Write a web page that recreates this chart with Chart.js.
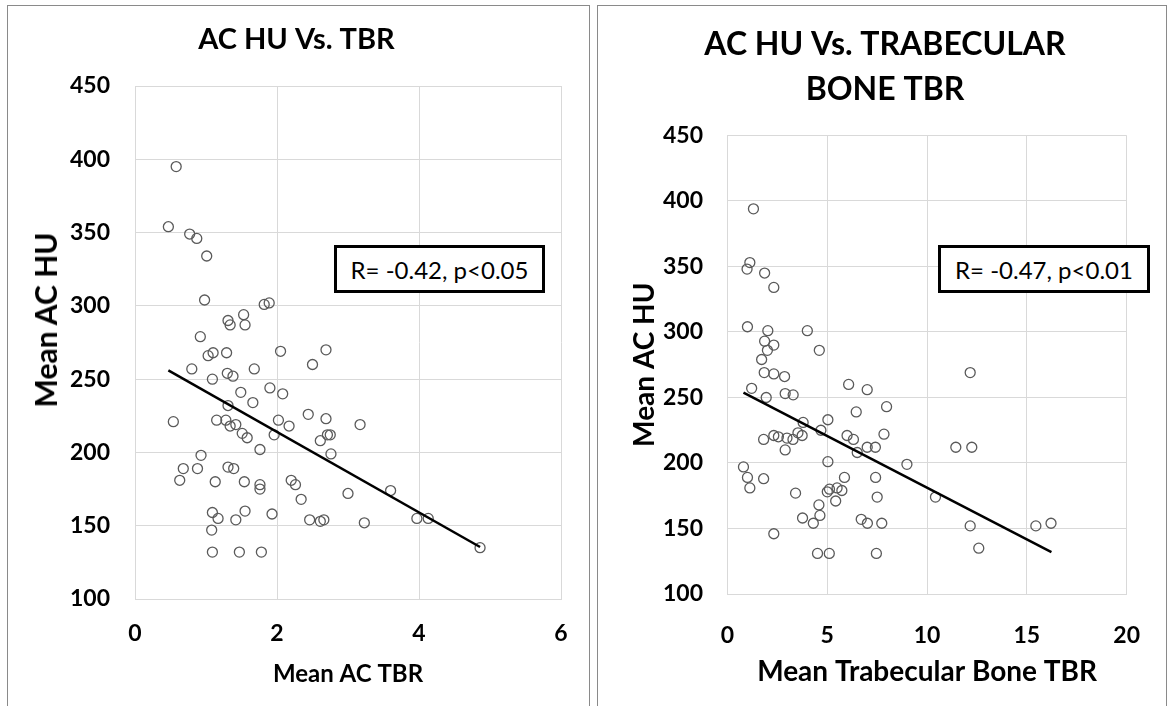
<!DOCTYPE html>
<html>
<head>
<meta charset="utf-8">
<script src="https://cdn.jsdelivr.net/npm/chart.js@4.4.0/dist/chart.umd.min.js"></script>
<style>
html,body{margin:0;padding:0;background:#fff;width:1168px;height:706px;overflow:hidden;}
.panel{position:absolute;border:1.5px solid #8a8a8a;box-sizing:border-box;}
canvas{position:absolute;}
.rbox{position:absolute;border:3px solid #000;box-sizing:border-box;background:#fff;font:24px Lato,sans-serif;color:#000;display:flex;align-items:center;justify-content:center;white-space:nowrap;}
.ytitle{position:absolute;font:bold 30px Lato,sans-serif;color:#000;white-space:nowrap;transform:translate(-50%,-50%) rotate(-90deg);line-height:1;}
</style>
</head>
<body>
<div class="panel" style="left:7px;top:5px;width:583px;height:720px"></div>
<div class="panel" style="left:597px;top:5px;width:570px;height:720px"></div>
<canvas id="c1" width="594" height="706" style="left:0;top:0"></canvas>
<canvas id="c2" width="574" height="706" style="left:594px;top:0"></canvas>
<div class="ytitle" id="leftYTitle" style="left:45px;top:320px"></div>
<div class="rbox" style="left:334px;top:245px;width:211px;height:48px">R= -0.42, p&lt;0.05</div>
<div class="rbox" style="left:938px;top:245px;width:212px;height:48px">R= -0.47, p&lt;0.01</div>
<script>
// ---- Data: left chart (Mean AC TBR vs Mean AC HU) ----
const acTbr = [0.58,0.47,0.77,0.87,1.01,0.98,1.82,1.89,1.31,1.34,
  1.53,1.55,0.92,1.03,1.10,1.29,2.05,2.69,2.50,0.80,
  1.68,1.30,1.38,1.09,1.49,1.90,2.08,1.66,1.31,0.54,
  1.15,1.28,1.34,1.42,1.51,1.58,2.02,2.17,2.44,2.69,
  1.96,2.61,2.71,2.75,2.76,1.76,0.93,0.68,0.88,0.63,
  1.31,1.39,1.13,1.54,1.76,1.76,2.20,2.26,2.34,3.00,
  1.09,1.17,1.42,1.55,1.93,2.46,2.61,2.66,1.08,1.09,
  1.47,1.78,3.17,3.60,3.23,3.97,4.13,4.86];
const acHuLeft = [395,354,349,346,334,304,301,302,290,287,
  294,287,279,266,268,268,269,270,260,257,
  257,254,252,250,241,244,240,234,232,221,
  222,222,218,219,213,210,222,218,226,223,
  212,208,212,212,199,202,198,189,189,181,
  190,189,180,180,178,175,181,178,168,172,
  159,155,154,160,158,154,153,154,147,132,
  132,132,219,174,152,155,155,135];
const trendLeftX = [0.47, 4.86];
const trendLeftY = [256, 135.5];

// ---- Data: right chart (Mean Trabecular Bone TBR vs Mean AC HU) ----
const boneTbr = [1.30,1.12,0.98,1.86,2.32,1.00,2.02,4.00,1.86,2.32,
  2.00,4.60,1.71,1.84,2.32,2.86,6.07,7.00,1.21,1.94,
  2.89,3.29,6.45,3.79,5.03,4.68,1.81,2.32,2.55,2.98,
  3.28,3.53,3.74,2.89,5.99,6.31,7.00,6.50,5.03,0.80,
  1.00,1.12,1.81,5.86,7.42,3.41,5.00,5.11,5.49,5.73,
  5.42,4.58,4.63,3.76,4.30,6.70,7.01,2.32,4.51,5.10,
  7.46,12.16,7.97,7.84,7.41,11.44,12.24,8.99,7.50,10.42,
  7.73,12.16,12.59,15.45,16.21];
const acHuRight = [394,353,348,345,334,304,301,301,293,290,
  286,286,279,269,268,266,260,256,257,250,
  253,252,239,231,233,225,218,221,220,219,
  218,223,221,210,221,218,212,208,201,197,
  189,181,188,189,189,177,178,180,181,179,
  171,168,160,158,154,157,154,146,131,131,
  131,269,243,222,212,212,212,199,174,174,
  154,152,135,152,154];
const trendRightX = [0.80, 16.23];
const trendRightY = [253.7, 132];

// ---- Axis ticks / labels ----
const yTickMin = 100, yTickMax = 450, yTickStep = 50;
const leftXTicks = {min:0, max:6, step:2};
const rightXTicks = {min:0, max:20, step:5};
const leftTitle = 'AC HU Vs. TBR';
const rightTitle = ['AC HU Vs. TRABECULAR', 'BONE TBR'];
const yAxisTitle = 'Mean AC HU';
const leftXTitle = 'Mean AC TBR';
const rightXTitle = 'Mean Trabecular Bone TBR';

document.getElementById('leftYTitle').textContent = yAxisTitle;

const FONT = 'Lato, "Open Sans", sans-serif';
const zip = (xs, ys) => xs.map((x, i) => ({x, y: ys[i]}));

function makeChart(id, cfg) {
  return new Chart(document.getElementById(id), {
    type: 'scatter',
    data: {
      datasets: [
        {
          type: 'line',
          data: zip(cfg.tx, cfg.ty),
          borderColor: '#000',
          borderWidth: 2.5,
          pointRadius: 0,
          fill: false,
          order: 0
        },
        {
          type: 'scatter',
          data: zip(cfg.xs, cfg.ys),
          pointRadius: 5,
          pointBorderWidth: 1.3,
          pointBorderColor: '#5a5a5a',
          pointBackgroundColor: 'rgba(255,255,255,0)',
          order: 1
        }
      ]
    },
    options: {
      responsive: false,
      animation: false,
      devicePixelRatio: 1,
      events: [],
      layout: {padding: {left: cfg.padLeft, right: cfg.padRight, top: 0, bottom: 0}},
      plugins: {
        legend: {display: false},
        tooltip: {enabled: false},
        title: {
          display: true,
          text: cfg.title,
          color: '#000',
          font: {family: FONT, size: cfg.titleSize, weight: 'bold', lineHeight: cfg.titleLH},
          padding: cfg.titlePad
        }
      },
      scales: {
        x: {
          type: 'linear',
          min: cfg.xt.min, max: cfg.xt.max,
          afterFit: s => { s.height = cfg.xHeight; },
          ticks: {stepSize: cfg.xt.step, color: '#000', padding: cfg.xTickPad,
                  font: {family: FONT, size: 23, weight: 'bold'}, maxRotation: 0},
          grid: {color: '#d9d9d9', lineWidth: 1, drawTicks: false},
          border: {color: '#d9d9d9'},
          title: {display: true, text: cfg.xTitle, color: '#000',
                  font: {family: FONT, size: cfg.xTitleSize, weight: 'bold'},
                  padding: {top: 0, bottom: cfg.xTitlePadB}}
        },
        y: {
          type: 'linear',
          min: yTickMin, max: yTickMax,
          afterFit: s => { s.width = cfg.yWidth; },
          ticks: {stepSize: yTickStep, color: '#000', padding: cfg.yTickPad,
                  font: {family: FONT, size: 23, weight: 'bold'}},
          grid: {color: '#d9d9d9', lineWidth: 1, drawTicks: false},
          border: {color: '#d9d9d9'},
          title: {display: cfg.yTitleShow, text: yAxisTitle, color: '#000',
                  font: {family: FONT, size: cfg.yTitleSize, weight: 'bold'},
                  padding: {top: cfg.yTitlePadT, bottom: 0}}
        }
      }
    }
  });
}

makeChart('c1', {
  xs: acTbr, ys: acHuLeft, tx: trendLeftX, ty: trendLeftY,
  xt: leftXTicks, title: leftTitle, titleSize: 29, titleLH: 1.2,
  titlePad: {top: 22.6, bottom: 28.6}, padLeft: 32, padRight: 33,
  xHeight: 107, yWidth: 103, xTickPad: 21, yTickPad: 25,
  xTitle: leftXTitle, xTitleSize: 24, xTitlePadB: 17,
  yTitleShow: false, yTitleSize: 30, yTitlePadT: 0
});

makeChart('c2', {
  xs: boneTbr, ys: acHuRight, tx: trendRightX, ty: trendRightY,
  xt: rightXTicks, title: rightTitle, titleSize: 32, titleLH: 1.406,
  titlePad: {top: 22.5, bottom: 23}, padLeft: 30.5, padRight: 22.5,
  xHeight: 112, yWidth: 103, xTickPad: 28, yTickPad: 24.5,
  xTitle: rightXTitle, xTitleSize: 28, xTitlePadB: 17,
  yTitleShow: true, yTitleSize: 28, yTitlePadT: 3.7
});
</script>
</body>
</html>
